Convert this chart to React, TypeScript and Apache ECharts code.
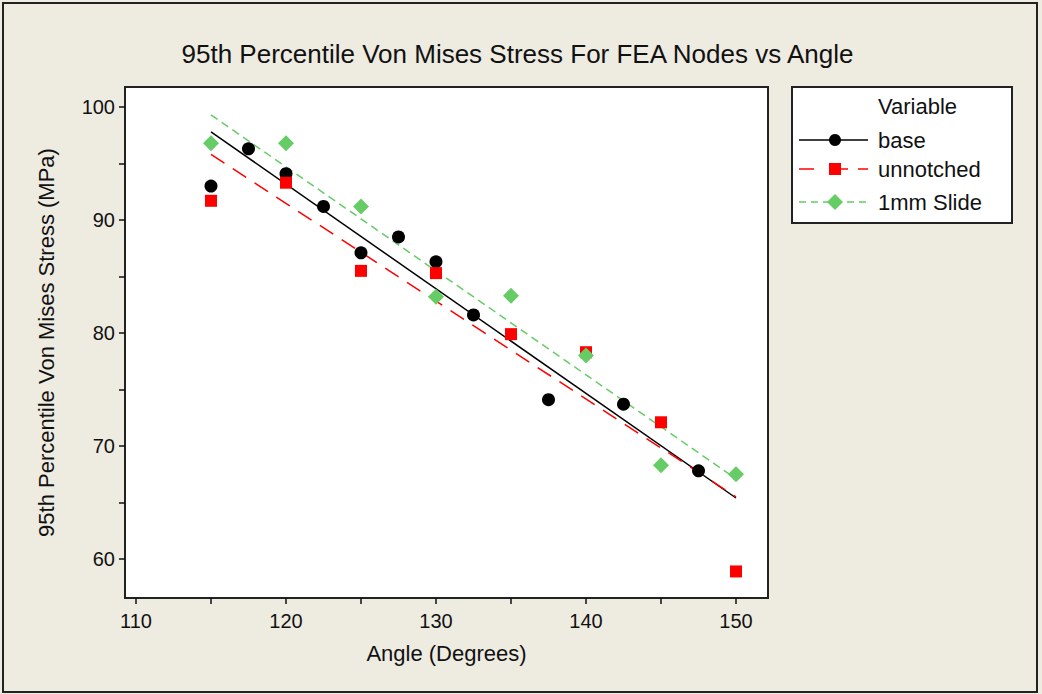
import React, { useEffect, useRef } from "react";
import * as echarts from "echarts";

// ---- data ----
const baseAngles = [115, 117.5, 120, 122.5, 125, 127.5, 130, 132.5, 137.5, 142.5, 147.5];
const baseStress = [93.0, 96.3, 94.1, 91.2, 87.1, 88.5, 86.3, 81.6, 74.1, 73.7, 67.8];

const unnotchedAngles = [115, 120, 125, 130, 135, 140, 145, 150];
const unnotchedStress = [91.7, 93.3, 85.5, 85.3, 79.9, 78.3, 72.1, 58.9];

const slideAngles = [115, 120, 125, 130, 135, 140, 145, 150];
const slideStress = [96.8, 96.8, 91.2, 83.2, 83.3, 78.0, 68.3, 67.5];

// fitted regression lines (end points)
const fitAngles = [115, 150];
const baseFit = [97.8, 65.4];
const unnotchedFit = [95.8, 65.5];
const slideFit = [99.3, 67.1];

// axis ticks / labels
const xTicks = [110, 115, 120, 125, 130, 135, 140, 145, 150];
const xLabels = [110, 120, 130, 140, 150];
const yTicks = [60, 65, 70, 75, 80, 85, 90, 95, 100];
const yLabels = [60, 70, 80, 90, 100];

const legendNames = ["base", "unnotched", "1mm Slide"];

const FONT = "Liberation Sans, Arial, sans-serif";
const BLACK = "#000000";
const RED = "#FF0000";
const GREEN = "#66CC66";
const BG = "#EEEBE1";

const zip = (xs: number[], ys: number[]) => xs.map((x, i) => [x, ys[i]]);

export default function App() {
  const ref = useRef<HTMLDivElement>(null);

  useEffect(() => {
    if (!ref.current) return;
    const chart = echarts.init(ref.current, null, { renderer: "svg" });

    const legendX0 = 799;
    const legendX1 = 868;
    const markerX = 835;
    const textX = 878;
    const rows = [140, 169, 202];

    const option: any = {
      animation: false,
      backgroundColor: BG,
      grid: {
        left: 125,
        top: 87,
        right: 1042 - 768,
        bottom: 694 - 598,
        show: true,
        backgroundColor: "#FFFFFF",
        borderColor: "#222222",
        borderWidth: 2,
      },
      xAxis: {
        type: "value",
        min: 109.267,
        max: 152.133,
        name: "Angle (Degrees)",
        nameLocation: "middle",
        nameGap: 44,
        nameTextStyle: { fontFamily: FONT, fontSize: 22, color: "#111" },
        axisLine: { show: false },
        splitLine: { show: false },
        axisTick: {
          show: true,
          inside: false,
          length: 6,
          customValues: xTicks,
          lineStyle: { color: "#111", width: 1.5 },
        },
        axisLabel: {
          customValues: xLabels,
          margin: 13,
          fontFamily: FONT,
          fontSize: 20,
          color: "#111",
        },
      },
      yAxis: {
        type: "value",
        min: 56.55,
        max: 101.77,
        name: "95th Percentile Von Mises Stress (MPa)",
        nameLocation: "middle",
        nameGap: 68,
        nameTextStyle: { fontFamily: FONT, fontSize: 22, color: "#111" },
        axisLine: { show: false },
        splitLine: { show: false },
        axisTick: {
          show: true,
          inside: false,
          length: 6,
          customValues: yTicks,
          lineStyle: { color: "#111", width: 1.5 },
        },
        axisLabel: {
          customValues: yLabels,
          margin: 10,
          fontFamily: FONT,
          fontSize: 20,
          color: "#111",
        },
      },
      series: [
        {
          name: "base fit",
          type: "line",
          data: zip(fitAngles, baseFit),
          symbol: "none",
          lineStyle: { color: BLACK, width: 1.5, type: "solid" },
          z: 2,
        },
        {
          name: "unnotched fit",
          type: "line",
          data: zip(fitAngles, unnotchedFit),
          symbol: "none",
          lineStyle: { color: RED, width: 1.5, type: [16, 10] },
          z: 2,
        },
        {
          name: "1mm Slide fit",
          type: "line",
          data: zip(fitAngles, slideFit),
          symbol: "none",
          lineStyle: { color: GREEN, width: 1.5, type: [8, 5] },
          z: 2,
        },
        {
          name: legendNames[0],
          type: "scatter",
          data: zip(baseAngles, baseStress),
          symbol: "circle",
          symbolSize: 13,
          itemStyle: { color: BLACK, opacity: 1 },
          z: 3,
        },
        {
          name: legendNames[1],
          type: "scatter",
          data: zip(unnotchedAngles, unnotchedStress),
          symbol: "rect",
          symbolSize: 12,
          itemStyle: { color: RED, opacity: 1 },
          z: 3,
        },
        {
          name: legendNames[2],
          type: "scatter",
          data: zip(slideAngles, slideStress),
          symbol: "diamond",
          symbolSize: [16, 16],
          itemStyle: { color: GREEN, opacity: 1 },
          z: 3,
        },
      ],
      graphic: [
        // outer frame
        {
          type: "rect",
          shape: { x: 3, y: 3, width: 1034, height: 689 },
          style: { fill: "none", stroke: "#222222", lineWidth: 2 },
          silent: true,
          z: 100,
        },
        // title
        {
          type: "text",
          x: 517.5,
          y: 54,
          style: {
            text: "95th Percentile Von Mises Stress For FEA Nodes vs Angle",
            font: `26px ${FONT}`,
            fill: "#111",
            textAlign: "center",
            textVerticalAlign: "middle",
          },
        },
        // legend box
        {
          type: "rect",
          shape: { x: 792, y: 87, width: 220, height: 136 },
          style: { fill: "#FFFFFF", stroke: "#222222", lineWidth: 2 },
        },
        {
          type: "text",
          x: textX,
          y: 106,
          style: {
            text: "Variable",
            font: `22px ${FONT}`,
            fill: "#111",
            textAlign: "left",
            textVerticalAlign: "middle",
          },
        },
        // base row
        {
          type: "line",
          shape: { x1: legendX0, y1: rows[0], x2: legendX1, y2: rows[0] },
          style: { stroke: BLACK, lineWidth: 1.5 },
        },
        {
          type: "circle",
          shape: { cx: markerX, cy: rows[0], r: 6 },
          style: { fill: BLACK },
        },
        // unnotched row
        {
          type: "line",
          shape: { x1: legendX0, y1: rows[1], x2: 814, y2: rows[1] },
          style: { stroke: RED, lineWidth: 1.5 },
        },
        {
          type: "line",
          shape: { x1: 840, y1: rows[1], x2: 848, y2: rows[1] },
          style: { stroke: RED, lineWidth: 1.5 },
        },
        {
          type: "line",
          shape: { x1: 858, y1: rows[1], x2: legendX1, y2: rows[1] },
          style: { stroke: RED, lineWidth: 1.5 },
        },
        {
          type: "rect",
          shape: { x: markerX - 6, y: rows[1] - 6, width: 12, height: 12 },
          style: { fill: RED },
        },
        // 1mm Slide row
        {
          type: "line",
          shape: { x1: legendX0, y1: rows[2], x2: legendX1, y2: rows[2] },
          style: { stroke: GREEN, lineWidth: 1.5, lineDash: [7, 5] },
        },
        {
          type: "polygon",
          shape: {
            points: [
              [markerX, rows[2] - 8],
              [markerX + 8, rows[2]],
              [markerX, rows[2] + 8],
              [markerX - 8, rows[2]],
            ],
          },
          style: { fill: GREEN },
        },
        ...legendNames.map((n, i) => ({
          type: "text",
          x: textX,
          y: rows[i],
          style: {
            text: n,
            font: `22px ${FONT}`,
            fill: "#111",
            textAlign: "left",
            textVerticalAlign: "middle",
          },
        })),
      ],
    };

    chart.setOption(option);
    return () => chart.dispose();
  }, []);

  return (
    <div
      ref={ref}
      style={{ position: "absolute", left: 0, top: 0, width: 1042, height: 694 }}
    />
  );
}
